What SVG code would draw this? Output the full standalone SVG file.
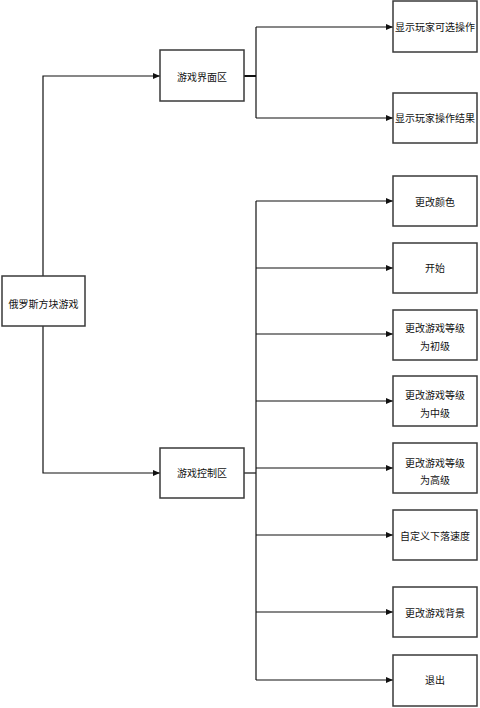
<svg xmlns="http://www.w3.org/2000/svg" width="480" height="708" viewBox="0 0 480 708">
<style>
.box{fill:#fff;stroke:#3a3a3a;stroke-width:1.5}
.t{font-family:"Liberation Serif","Noto Sans CJK SC",serif;font-size:10px;fill:#111;text-anchor:middle;dominant-baseline:central}
.c{fill:none;stroke:#111;stroke-width:1.2}
</style>
<defs>
<marker id="ar" markerWidth="7" markerHeight="6" refX="7" refY="3" orient="auto" markerUnits="userSpaceOnUse">
<path d="M0,0 L7,3 L0,6 Z" fill="#111"/>
</marker>
</defs>
<rect width="480" height="708" fill="#fff"/>
<g id="connectors">
<path class="c" d="M43,276 V76 H160" marker-end="url(#ar)"/>
<path class="c" d="M43,326 V473 H160" marker-end="url(#ar)"/>
<path class="c" style="stroke-width:2" d="M244,76 H256"/>
<path class="c" d="M256,27 V118"/>
<path class="c" d="M256,27 H393" marker-end="url(#ar)"/>
<path class="c" d="M256,118 H393" marker-end="url(#ar)"/>
<path class="c" d="M244,473 H256"/>
<path class="c" d="M256,201 V680"/>
<path class="c" d="M256,201 H393" marker-end="url(#ar)"/>
<path class="c" d="M256,268 H393" marker-end="url(#ar)"/>
<path class="c" d="M256,334 H393" marker-end="url(#ar)"/>
<path class="c" d="M256,401 H393" marker-end="url(#ar)"/>
<path class="c" d="M256,468 H393" marker-end="url(#ar)"/>
<path class="c" d="M256,535 H393" marker-end="url(#ar)"/>
<path class="c" d="M256,612 H393" marker-end="url(#ar)"/>
<path class="c" d="M256,680 H393" marker-end="url(#ar)"/>
</g>
<g id="root"><rect class="box" x="2" y="276" width="83" height="50"/><text class="t" x="43.5" y="304">俄罗斯方块游戏</text></g>
<g id="ui"><rect class="box" x="160" y="50" width="84" height="51"/><text class="t" x="202" y="77">游戏界面区</text></g>
<g id="ctrl"><rect class="box" x="160" y="448" width="84" height="50"/><text class="t" x="202" y="473">游戏控制区</text></g>
<g id="n1"><rect class="box" x="393" y="1" width="84" height="51"/><text class="t" x="435" y="27">显示玩家可选操作</text></g>
<g id="n2"><rect class="box" x="393" y="93" width="84" height="50"/><text class="t" x="435" y="118">显示玩家操作结果</text></g>
<g id="n3"><rect class="box" x="393" y="176" width="84" height="50"/><text class="t" x="435" y="202">更改颜色</text></g>
<g id="n4"><rect class="box" x="393" y="243" width="84" height="50"/><text class="t" x="435" y="268">开始</text></g>
<g id="n5"><rect class="box" x="393" y="310" width="84" height="50"/><text class="t" x="435" y="328">更改游戏等级</text><text class="t" x="435" y="346">为初级</text></g>
<g id="n6"><rect class="box" x="393" y="376" width="84" height="50"/><text class="t" x="435" y="395">更改游戏等级</text><text class="t" x="435" y="413">为中级</text></g>
<g id="n7"><rect class="box" x="393" y="443" width="84" height="50"/><text class="t" x="435" y="463">更改游戏等级</text><text class="t" x="435" y="480">为高级</text></g>
<g id="n8"><rect class="box" x="393" y="510" width="84" height="50"/><text class="t" x="435" y="536">自定义下落速度</text></g>
<g id="n9"><rect class="box" x="393" y="587" width="84" height="50"/><text class="t" x="435" y="613">更改游戏背景</text></g>
<g id="n10"><rect class="box" x="393" y="655" width="84" height="51"/><text class="t" x="435" y="680">退出</text></g>
</svg>
